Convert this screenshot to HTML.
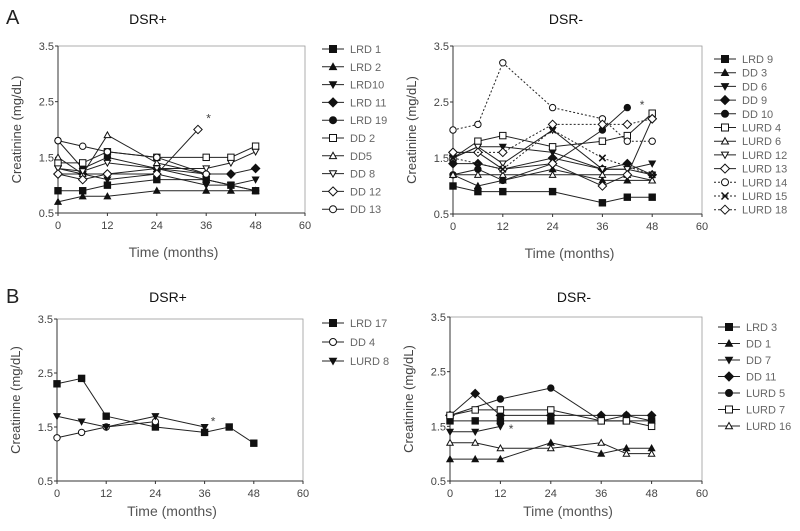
<!DOCTYPE html>
<html><head><meta charset="utf-8"><style>
body{margin:0;background:#fff}
svg{display:block;font-family:"Liberation Sans",sans-serif}
</style></head><body>
<svg id="c" width="800" height="531" viewBox="0 0 800 531"></svg>
<script>
const NS='http://www.w3.org/2000/svg';
const svg=document.getElementById('c');
const xTicks=[0,12,24,36,48,60];
const yTicks=[0.5,1.5,2.5,3.5];
const yTickLabels=['0.5','1.5','2.5','3.5'];

const aPlusNames=['LRD 1','LRD 2','LRD10','LRD 11','LRD 19','DD 2','DD5','DD 8','DD 12','DD 13'];
const aPlusMarkers=['sq','tri','dtri','dia','cir','sq','tri','dtri','dia','cir'];
const aPlusFilled=[1,1,1,1,1,0,0,0,0,0];
const aPlusData=[
 [[0,0.9],[6,0.9],[12,1.0],[24,1.1],[36,1.1],[42,1.0],[48,0.9]],
 [[0,0.7],[6,0.8],[12,0.8],[24,0.9],[36,0.9],[42,0.9],[48,0.9]],
 [[0,1.3],[6,1.2],[12,1.1],[24,1.2],[36,1.0],[42,1.0],[48,1.1]],
 [[0,1.2],[6,1.2],[12,1.2],[24,1.3],[36,1.2],[42,1.2],[48,1.3]],
 [[0,1.8],[6,1.3],[12,1.5],[24,1.3],[36,1.1],[42,1.0],[48,0.9]],
 [[0,1.4],[6,1.4],[12,1.6],[24,1.5],[36,1.5],[42,1.5],[48,1.7]],
 [[0,1.5],[6,1.2],[12,1.9],[24,1.4],[36,1.2]],
 [[0,1.3],[6,1.25],[12,1.4],[24,1.3],[36,1.3],[42,1.4],[48,1.6]],
 [[0,1.2],[6,1.1],[12,1.2],[24,1.2],[34,2.0]],
 [[0,1.8],[6,1.7],[12,1.6],[24,1.5],[36,1.2]]
];
const aMinusNames=['LRD 9','DD 3','DD 6','DD 9','DD 10','LURD 4','LURD 6','LURD 12','LURD 13','LURD 14','LURD 15','LURD 18'];
const aMinusMarkers=['sq','tri','dtri','dia','cir','sq','tri','dtri','dia','cir','x','dia'];
const aMinusFilled=[1,1,1,1,1,0,0,0,0,0,1,0];
const aMinusDotted=[0,0,0,0,0,0,0,0,0,1,1,1];
const aMinusData=[
 [[0,1.0],[6,0.9],[12,0.9],[24,0.9],[36,0.7],[42,0.8],[48,0.8]],
 [[0,1.2],[6,1.0],[12,1.1],[24,1.3],[36,1.1],[42,1.1],[48,1.1]],
 [[0,1.5],[6,1.7],[12,1.7],[24,1.6],[36,1.3],[42,1.3],[48,1.4]],
 [[0,1.4],[6,1.4],[12,1.3],[24,1.5],[36,1.3],[42,1.4],[48,1.2]],
 [[0,1.2],[6,1.3],[12,1.1],[24,1.4],[36,2.0],[42,2.4]],
 [[0,1.5],[6,1.8],[12,1.9],[24,1.7],[36,1.8],[42,1.9],[48,2.3]],
 [[0,1.2],[6,1.2],[12,1.2],[24,1.2],[36,1.2],[42,1.2],[48,1.1]],
 [[0,1.5],[6,1.7],[12,1.4],[24,2.0],[36,1.3],[42,1.3],[48,1.2]],
 [[0,1.6],[6,1.6],[12,1.3],[24,1.4],[36,1.0],[42,1.2],[48,2.2]],
 [[0,2.0],[6,2.1],[12,3.2],[24,2.4],[36,2.2],[42,1.8],[48,1.8]],
 [[0,1.5],[12,1.3],[24,2.0],[36,1.5],[48,1.2]],
 [[0,1.6],[12,1.6],[24,2.1],[36,2.1],[42,2.1],[48,2.2]]
];
const bPlusNames=['LRD 17','DD 4','LURD 8'];
const bPlusMarkers=['sq','cir','dtri'];
const bPlusFilled=[1,0,1];
const bPlusData=[
 [[0,2.3],[6,2.4],[12,1.7],[24,1.5],[36,1.4],[42,1.5],[48,1.2]],
 [[0,1.3],[6,1.4],[12,1.5],[24,1.6]],
 [[0,1.7],[6,1.6],[12,1.5],[24,1.7],[36,1.5]]
];
const bMinusNames=['LRD 3','DD 1','DD 7','DD 11','LURD 5','LURD 7','LURD 16'];
const bMinusMarkers=['sq','tri','dtri','dia','cir','sq','tri'];
const bMinusFilled=[1,1,1,1,1,0,0];
const bMinusData=[
 [[0,1.6],[6,1.6],[12,1.6],[24,1.6],[36,1.6],[42,1.6],[48,1.6]],
 [[0,0.9],[6,0.9],[12,0.9],[24,1.2],[36,1.0],[42,1.1],[48,1.1]],
 [[0,1.4],[6,1.4],[12,1.5]],
 [[0,1.7],[6,2.1],[12,1.7],[24,1.7],[36,1.7],[42,1.7],[48,1.7]],
 [[0,1.7],[12,2.0],[24,2.2],[36,1.6],[42,1.7],[48,1.6]],
 [[0,1.7],[6,1.8],[12,1.8],[24,1.8],[36,1.6],[42,1.6],[48,1.5]],
 [[0,1.2],[6,1.2],[12,1.1],[24,1.1],[36,1.2],[42,1.0],[48,1.0]]
];

function el(tag,attrs,parent){const e=document.createElementNS(NS,tag);for(const k in attrs)e.setAttribute(k,attrs[k]);(parent||svg).appendChild(e);return e;}
function txt(s,attrs,parent){const e=el('text',attrs,parent);e.textContent=s;return e;}

function marker(g,type,filled,cx,cy,r){
  const f=filled?'#111':'#fff';let m;
  if(type==='sq')m=el('rect',{x:cx-r,y:cy-r,width:2*r,height:2*r,fill:f,stroke:'#111','stroke-width':1},g);
  else if(type==='cir')m=el('circle',{cx:cx,cy:cy,r:r,fill:f,stroke:'#111','stroke-width':1},g);
  else if(type==='tri')m=el('polygon',{points:`${cx},${cy-r} ${cx+r},${cy+r*0.8} ${cx-r},${cy+r*0.8}`,fill:f,stroke:'#111','stroke-width':1},g);
  else if(type==='dtri')m=el('polygon',{points:`${cx},${cy+r} ${cx+r},${cy-r*0.8} ${cx-r},${cy-r*0.8}`,fill:f,stroke:'#111','stroke-width':1},g);
  else if(type==='dia')m=el('polygon',{points:`${cx},${cy-r-1} ${cx+r+1},${cy} ${cx},${cy+r+1} ${cx-r-1},${cy}`,fill:f,stroke:'#111','stroke-width':1},g);
  else m=el('path',{d:`M${cx-r} ${cy-r}L${cx+r} ${cy+r}M${cx+r} ${cy-r}L${cx-r} ${cy+r}`,stroke:'#111','stroke-width':1.5},g);
  
  
}

function panel(o){
  const g=el('g',{});
  const xs=v=>o.x0+(o.x1-o.x0)*v/60;
  const ys=v=>o.y1-(o.y1-o.y0)*(v-0.5)/3;
  el('rect',{x:o.x0,y:o.y0,width:o.x1-o.x0,height:o.y1-o.y0,fill:'none',stroke:'#999','stroke-width':0.8,},g);
  el('line',{x1:o.x0,y1:o.y0,x2:o.x0,y2:o.y1,stroke:'#333','stroke-width':1,},g);
  el('line',{x1:o.x0,y1:o.y1,x2:o.x1,y2:o.y1,stroke:'#333','stroke-width':1,},g);
  yTicks.forEach((t,i)=>{
    el('line',{x1:o.x0-3,y1:ys(t),x2:o.x0,y2:ys(t),stroke:'#333'},g);
    txt(yTickLabels[i],{x:o.x0-4,y:ys(t)+4,'font-size':11,'text-anchor':'end',fill:'#444',},g);
  });
  xTicks.forEach(t=>{
    el('line',{x1:xs(t),y1:o.y1,x2:xs(t),y2:o.y1+3,stroke:'#333'},g);
    txt(String(t),{x:xs(t),y:o.y1+16,'font-size':11,'text-anchor':'middle',fill:'#444',},g);
  });
  txt('Time (months)',{x:(o.x0+o.x1)/2-8,y:o.y1+o.tOff,'font-size':14,'text-anchor':'middle',fill:'#555',},g);
  const yc=(o.y0+o.y1)/2;
  txt('Creatinine (mg/dL)',{x:0,y:0,'font-size':13,'text-anchor':'middle',fill:'#444',transform:`translate(${o.x0-37},${yc}) rotate(-90)`,},g);
  txt(o.title,{x:o.tx,y:o.ty,'font-size':14,'text-anchor':'middle',fill:'#111',},g);
  o.data.forEach((s,i)=>{
    const sg=el('g',{},g);
    
    
    const dash=o.dotted&&o.dotted[i]?'2,2':'none';
    el('polyline',{points:s.map(p=>xs(p[0])+','+ys(p[1])).join(' '),fill:'none',stroke:'#222','stroke-width':1,'stroke-dasharray':dash},sg);
    s.forEach(p=>marker(sg,o.markers[i],o.filled[i],xs(p[0]),ys(p[1]),3.2));
    const ly=o.ly+i*o.lstep;
    const lg=el('g',{},g);
    
    
    el('line',{x1:o.lx,y1:ly,x2:o.lx+22,y2:ly,stroke:'#222','stroke-width':1,'stroke-dasharray':dash},lg);
    marker(lg,o.markers[i],o.filled[i],o.lx+11,ly,3.5);
    txt(o.names[i],{x:o.lx+28,y:ly+4,'font-size':11,fill:'#666'},lg);
  });
  (o.stars||[]).forEach(st=>txt('*',{x:xs(st[0]),y:ys(st[1])+4,'font-size':12,fill:'#444',},g));
}

txt('A',{x:6,y:24,'font-size':20,fill:'#222',});
txt('B',{x:6,y:303,'font-size':20,fill:'#222',});

panel({name:'panel-a-dsr-plus',title:'DSR+',tx:148,ty:24,x0:58,x1:305,y0:46,y1:213,tOff:44,data:aPlusData,names:aPlusNames,markers:aPlusMarkers,filled:aPlusFilled,lx:322,ly:49,lstep:17.8,stars:[[36,2.2]]});
panel({name:'panel-a-dsr-minus',title:'DSR-',tx:566,ty:24,x0:453,x1:702,y0:46,y1:214,tOff:44,data:aMinusData,names:aMinusNames,markers:aMinusMarkers,filled:aMinusFilled,dotted:aMinusDotted,lx:714,ly:59,lstep:13.7,stars:[[45,2.45]]});
panel({name:'panel-b-dsr-plus',title:'DSR+',tx:168,ty:302,x0:57,x1:303,y0:319,y1:481,tOff:35,data:bPlusData,names:bPlusNames,markers:bPlusMarkers,filled:bPlusFilled,lx:322,ly:323,lstep:19,stars:[[37.5,1.6]]});
panel({name:'panel-b-dsr-minus',title:'DSR-',tx:574,ty:302,x0:450,x1:702,y0:317,y1:481,tOff:35,data:bMinusData,names:bMinusNames,markers:bMinusMarkers,filled:bMinusFilled,lx:718,ly:327,lstep:16.5,stars:[[14,1.45]]});
</script>
</body></html>
